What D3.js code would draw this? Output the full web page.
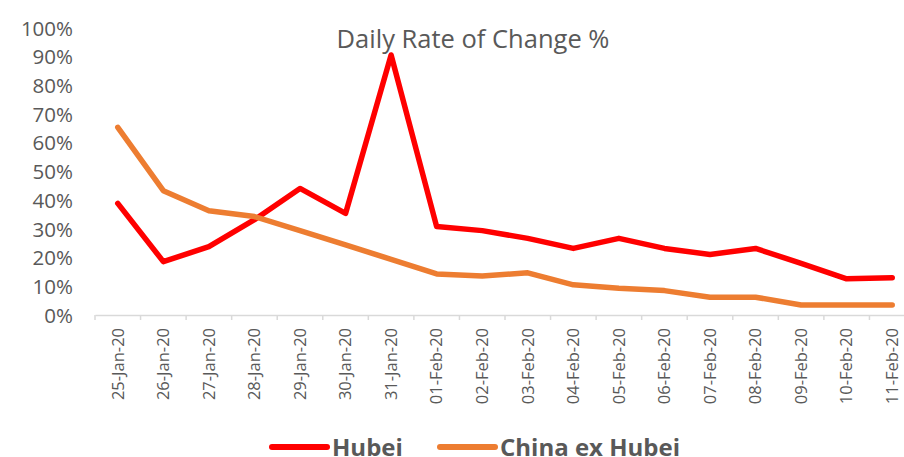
<!DOCTYPE html>
<html>
<head>
<meta charset="utf-8">
<script src="https://cdn.jsdelivr.net/npm/d3@7"></script>
<style>
  body { margin: 0; background: #fff; }
  text { font-family: "Open Sans", "Liberation Sans", sans-serif; fill: #595959; }
</style>
</head>
<body>
<script>
// categories and series
var dates = ["25-Jan-20", "26-Jan-20", "27-Jan-20", "28-Jan-20", "29-Jan-20", "30-Jan-20",
             "31-Jan-20", "01-Feb-20", "02-Feb-20", "03-Feb-20", "04-Feb-20", "05-Feb-20",
             "06-Feb-20", "07-Feb-20", "08-Feb-20", "09-Feb-20", "10-Feb-20", "11-Feb-20"];
var hubei = [38.9, 18.6, 23.8, 33.2, 44.1, 35.4, 90.6, 30.8, 29.4, 26.7, 23.2, 26.7,
             23.2, 21.1, 23.2, 18.0, 12.6, 13.0];
var chinaExHubei = [65.4, 43.3, 36.3, 34.3, 29.4, 24.4, 19.4, 14.3, 13.6, 14.7, 10.5, 9.3,
                    8.5, 6.2, 6.2, 3.5, 3.5, 3.5];
var yTicks = [0, 10, 20, 30, 40, 50, 60, 70, 80, 90, 100];
var seriesNames = ["Hubei", "China ex Hubei"];
var seriesColors = ["#ff0000", "#ed7d31"];

var W = 904, H = 457;
var x = d3.scaleBand().domain(dates).range([95, 915]);
var y = d3.scaleLinear().domain([0, 100]).range([315, 28]);

var svg = d3.select("body").append("svg")
    .attr("width", W)
    .attr("height", H);

// y axis labels (no line)
svg.append("g")
    .attr("class", "axis axis--y")
    .attr("transform", "translate(73,0)")
    .call(d3.axisLeft(y).tickValues(yTicks).tickSize(0).tickPadding(0)
          .tickFormat(function(d) { return d + "%"; }))
    .call(function(g) { g.select(".domain").remove(); })
    .selectAll("text")
    .attr("font-size", 20.5)
    .attr("dy", "0.35em");

// x axis
var xAxisG = svg.append("g")
    .attr("class", "axis axis--x")
    .attr("transform", "translate(0,315)")
    .call(d3.axisBottom(x).tickSize(0).tickPadding(0));
xAxisG.select(".domain").attr("stroke", "#d9d9d9").attr("stroke-width", 1.5);
xAxisG.selectAll(".tick line").remove();
xAxisG.selectAll(".tick text")
    .attr("font-size", 16.5)
    .attr("text-anchor", "end")
    .attr("transform", "rotate(-90)")
    .attr("x", -13)
    .attr("y", 0)
    .attr("dy", "0.35em");

// tick marks between categories
var boundaries = dates.map(function(d) { return x(d); }).concat([x.range()[1]]);
svg.append("g").selectAll("line")
    .data(boundaries)
    .enter().append("line")
    .attr("x1", function(d) { return d; })
    .attr("x2", function(d) { return d; })
    .attr("y1", 315)
    .attr("y2", 320)
    .attr("stroke", "#d9d9d9")
    .attr("stroke-width", 1.5);

// title
svg.append("text")
    .attr("x", 473)
    .attr("y", 48)
    .attr("text-anchor", "middle")
    .attr("font-size", 25.5)
    .text("Daily Rate of Change %");

// lines
var line = d3.line()
    .x(function(d, i) { return x(dates[i]) + x.bandwidth() / 2; })
    .y(function(d) { return y(d); });

[hubei, chinaExHubei].forEach(function(s, i) {
    svg.append("path")
        .datum(s)
        .attr("fill", "none")
        .attr("stroke", seriesColors[i])
        .attr("stroke-width", 5.5)
        .attr("stroke-linejoin", "round")
        .attr("stroke-linecap", "round")
        .attr("d", line);
});

// legend (cut off by the bottom edge, as in the original)
var legendX = [272, 440];
seriesNames.forEach(function(name, i) {
    var g = svg.append("g").attr("transform", "translate(" + legendX[i] + ",447)");
    g.append("line")
        .attr("x1", 0).attr("x2", 55)
        .attr("stroke", seriesColors[i])
        .attr("stroke-width", 6)
        .attr("stroke-linecap", "round");
    g.append("text")
        .attr("x", 60)
        .attr("y", 0)
        .attr("dy", "0.38em")
        .attr("font-size", 24)
        .attr("font-weight", "bold")
        .text(name);
});
</script>
</body>
</html>
